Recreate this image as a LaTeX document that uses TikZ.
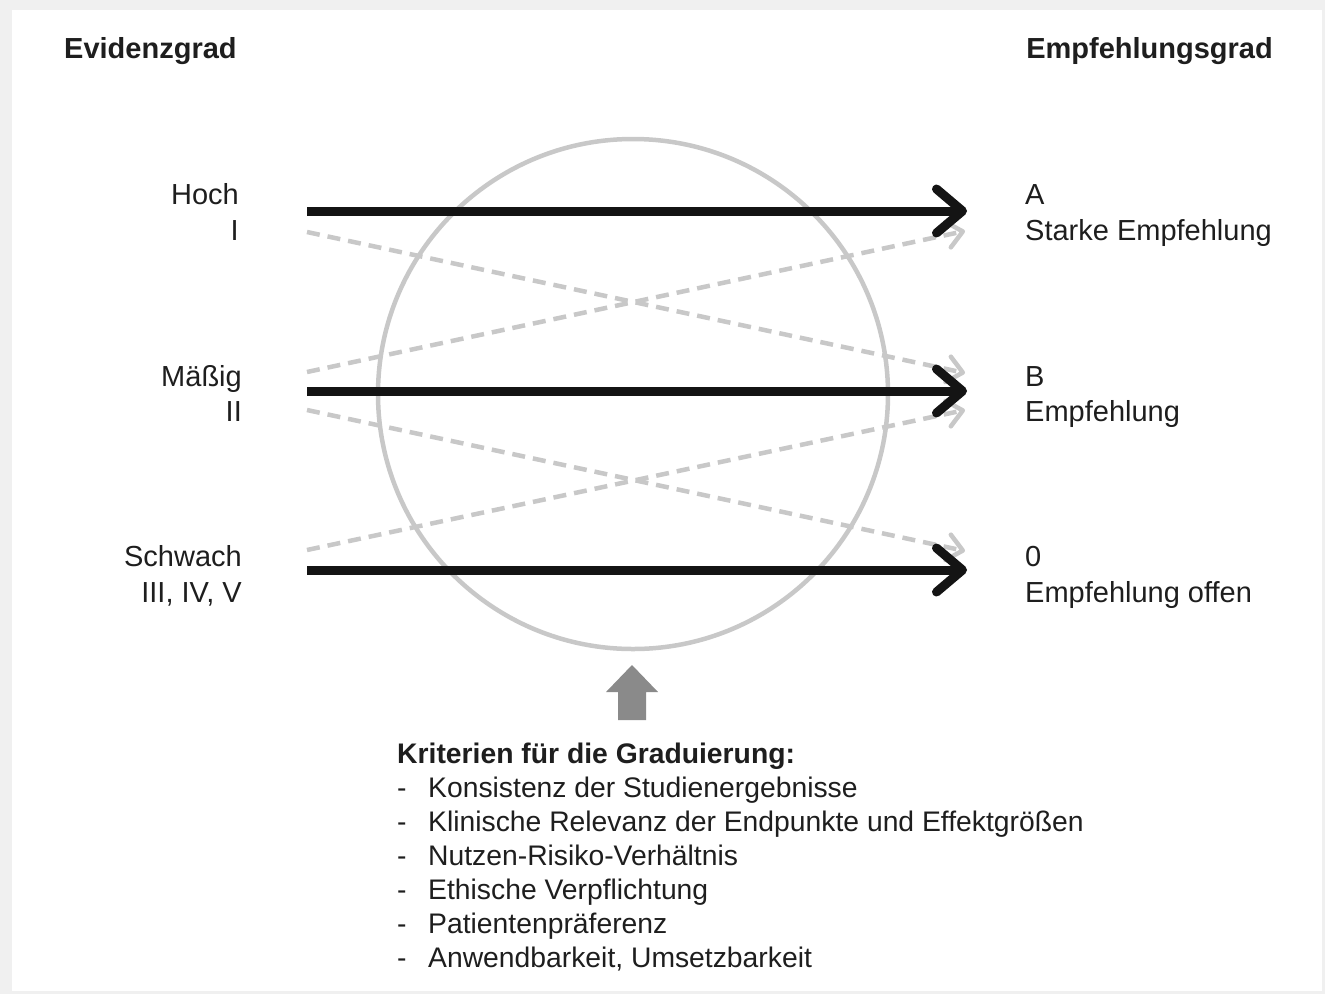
\documentclass[tikz,border=0pt]{standalone}
\usepackage{fontspec}
\setmainfont{Liberation Sans}
\usetikzlibrary{arrows.meta}
\definecolor{txt}{HTML}{1E1E1E}
\definecolor{lgray}{HTML}{C8C8C8}
\definecolor{frame}{HTML}{F0F0F0}
\definecolor{blockgray}{HTML}{8A8A8A}
\begin{document}
\begin{tikzpicture}[x=1pt,y=-1pt,
  lbl/.style={inner sep=0pt,text=txt,font=\fontsize{29}{34}\selectfont},
  lblb/.style={lbl,font=\fontsize{29}{34}\selectfont\bfseries},
  crit/.style={inner sep=0pt,text=txt,font=\fontsize{28.3}{34}\selectfont},
  critb/.style={crit,font=\fontsize{28.3}{34}\selectfont\bfseries},
  strong/.style={draw=black!92,line width=9pt,-{Straight Barb[length=26pt,width=44pt,round]}},
  weak/.style={draw=lgray,line width=4.5pt,dash pattern=on 13pt off 8pt,-{Straight Barb[length=15pt,width=26pt,round]}},
  ring/.style={draw=lgray,line width=4.5pt}]
\useasboundingbox (0,0) rectangle (1325,994);
\fill[frame] (0,0) rectangle (1325,994);
\fill[white] (12,10) rectangle (1322,991);
% headers
\node[lblb,anchor=base west] (evh) at (64,58) {Evidenzgrad};
\node[lblb,anchor=base east] (emh) at (1273,58) {Empfehlungsgrad};
% circle
\node[ring,circle,minimum size=510pt,inner sep=0pt] (circ) at (633,394) {};
% left labels
\node[lbl,anchor=base east] (hoch) at (239,204) {Hoch};
\node[lbl,anchor=base east] (i) at (239,240) {I};
\node[lbl,anchor=base east] (mass) at (242,386) {Mäßig};
\node[lbl,anchor=base east] (ii) at (242,421) {II};
\node[lbl,anchor=base east] (schw) at (242,566) {Schwach};
\node[lbl,anchor=base east] (iii) at (242,602) {III, IV, V};
% right labels
\node[lbl,anchor=base west] (a) at (1025,204) {A};
\node[lbl,anchor=base west] (aa) at (1025,240) {Starke Empfehlung};
\node[lbl,anchor=base west] (b) at (1025,386) {B};
\node[lbl,anchor=base west] (bb) at (1025,421) {Empfehlung};
\node[lbl,anchor=base west] (z) at (1025,566) {0};
\node[lbl,anchor=base west] (zz) at (1025,602) {Empfehlung offen};
% coordinates
\coordinate (sH) at (307,211); \coordinate (eA) at (967,211);
\coordinate (sM) at (307,391); \coordinate (eB) at (967,391);
\coordinate (sS) at (307,570); \coordinate (eZ) at (967,570);
\coordinate (sH2) at (307,232); \coordinate (eB1) at (965,373);
\coordinate (sM1) at (307,372); \coordinate (eA2) at (965,231);
\coordinate (sM2) at (307,410); \coordinate (eZ1) at (965,551);
\coordinate (sS1) at (307,550); \coordinate (eB2) at (965,410);
% dashed
\draw[weak] (sH2) -- (eB1);
\draw[weak] (sM1) -- (eA2);
\draw[weak] (sM2) -- (eZ1);
\draw[weak] (sS1) -- (eB2);
% strong
\draw[strong] (sH) -- (eA);
\draw[strong] (sM) -- (eB);
\draw[strong] (sS) -- (eZ);
% block arrow
\fill[blockgray] (618,720) -- (646,720) -- (646,692) -- (658,692) -- (632,665) -- (606,692) -- (618,692) -- cycle;
\coordinate (blk) at (632,665);
% criteria
\node[critb,anchor=base west] (krit) at (397,763) {Kriterien für die Graduierung:};
\foreach \t [count=\k] in {Konsistenz der Studienergebnisse,Klinische Relevanz der Endpunkte und Effektgrößen,Nutzen-Risiko-Verhältnis,Ethische Verpflichtung,Patientenpräferenz,{Anwendbarkeit, Umsetzbarkeit}}{
  \node[crit,anchor=base west] (d\k) at (397,763+34*\k) {-};
  \node[crit,anchor=base west] (c\k) at (428,763+34*\k) {\t};
}
\end{tikzpicture}
\end{document}
